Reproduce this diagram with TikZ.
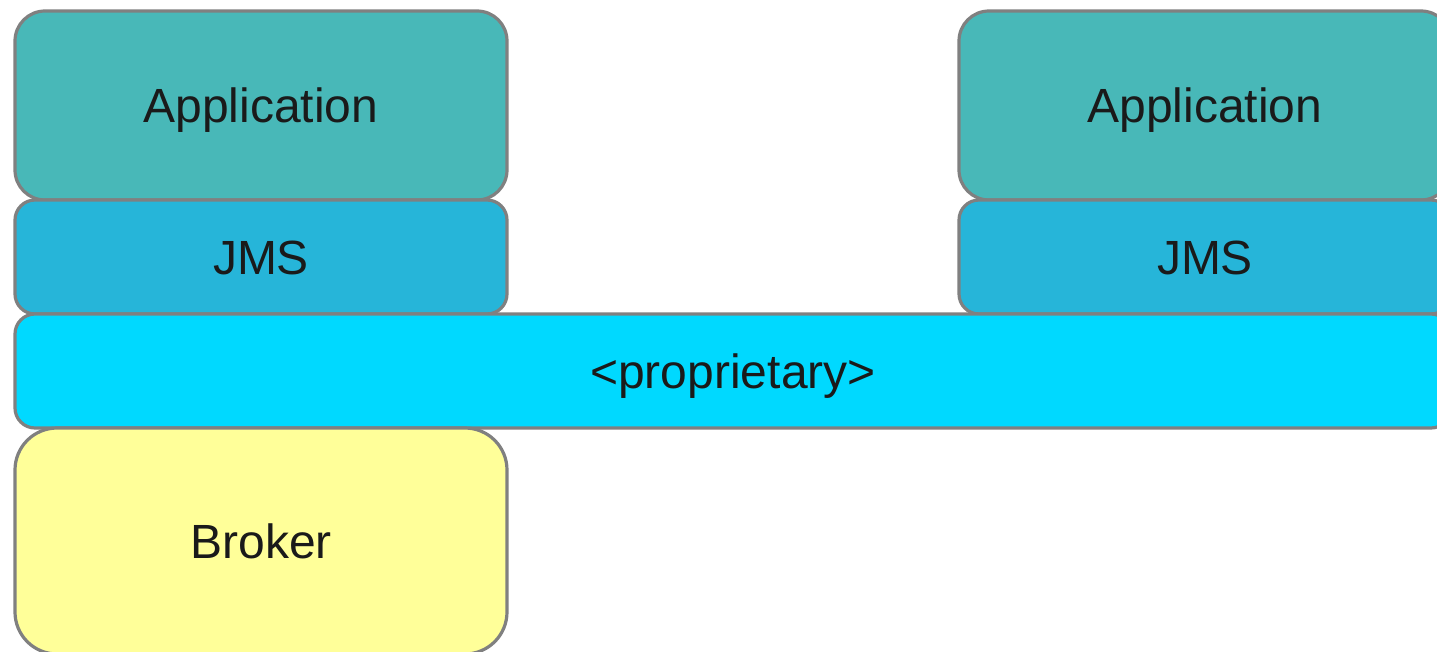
\documentclass[tikz,border=0pt]{standalone}
\usepackage{fontspec}
\setmainfont{Liberation Sans}
\definecolor{appc}{HTML}{48B8B8}
\definecolor{jmsc}{HTML}{26B5D9}
\definecolor{propc}{HTML}{00D9FF}
\definecolor{brokc}{HTML}{FFFF99}
\definecolor{edgec}{HTML}{808080}
\definecolor{txtc}{HTML}{1A1A1A}
\begin{document}
\begin{tikzpicture}[x=1pt,y=-1pt,
  layerbox/.style={draw=edgec,line width=3.2pt,text=txtc,inner sep=0pt,
    text height=34.5pt,text depth=0pt,
    font=\fontsize{48}{56}\selectfont},
  appbox/.style={layerbox,fill=appc,rounded corners=30pt,minimum width=492pt,minimum height=189pt},
  jmsbox/.style={layerbox,fill=jmsc,rounded corners=20pt,minimum width=492pt,minimum height=114pt},
  propbox/.style={layerbox,fill=propc,rounded corners=20pt,minimum width=1436pt,minimum height=114pt},
  brokbox/.style={layerbox,fill=brokc,rounded corners=42pt,minimum width=492pt,minimum height=226pt}]
\useasboundingbox (0,0) rectangle (1437,652);
\clip (0,0) rectangle (1437,652);
\node[appbox] (app1) at (261,105.5) {Application};
\node[appbox] (app2) at (1205,105.5) {Application};
\node[jmsbox] (jms1) at (261,257) {JMS};
\node[jmsbox] (jms2) at (1205,257) {JMS};
\node[propbox] (prop) at (733,371) {<proprietary>};
\node[brokbox] (brok) at (261,541) {Broker};
\end{tikzpicture}
\end{document}
